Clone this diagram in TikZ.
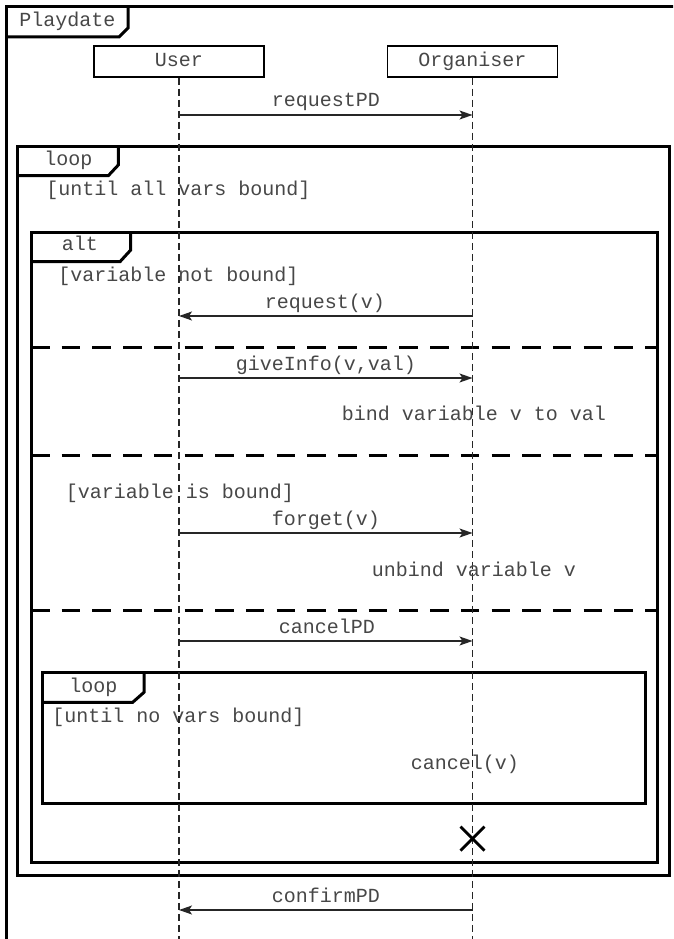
\documentclass[tikz,border=0pt]{standalone}
\usepackage{fontspec}
\setmonofont{Liberation Mono}
\usetikzlibrary{arrows.meta}
\begin{document}
\begin{tikzpicture}[x=1pt,y=-1pt,
  txt/.style={font=\ttfamily\fontsize{20}{22}\selectfont, text=black!72, inner sep=0pt},
  lbl/.style={txt, anchor=base},
  actor/.style={txt, draw=black, line width=1.5pt, minimum width=170pt, minimum height=31pt, text height=12.5pt, text depth=2.5pt},
  frm/.style={draw=black, line width=3pt, line join=miter},
  life/.style={draw=black!85, line width=1.3pt, dash pattern=on 7pt off 4pt},
  sep/.style={draw=black, line width=3pt, dash pattern=on 18.5pt off 12.2pt},
  msg/.style={draw=black!85, line width=1.3pt, -{Stealth[length=13pt, width=9pt, inset=3pt]}},
  xmark/.style={draw=black, line width=2.8pt}]
\useasboundingbox (0,0) rectangle (673,939);
\clip (0,0) rectangle (673,939);

% outer frame Playdate
\draw[frm] (6,960) -- (6,7) -- (700,7);
\draw[frm] (6,37) -- (119,37) -- (128,28) -- (128,7);
\node[lbl] (tplay) at (67.5,27) {Playdate};

% outer loop
\draw[frm] (17.5,146) rectangle (669,875);
\draw[frm] (17.5,175.7) -- (108.3,175.7) -- (118.3,165) -- (118.3,146);
\node[lbl] (tloop1) at (68.3,165) {loop};
\node[lbl] (g1) at (178.3,195.7) {[until all vars bound]};

% alt frame
\draw[frm] (31,232) rectangle (657,862);
\draw[frm] (31,261.7) -- (120,261.7) -- (130.7,250) -- (130.7,232);
\node[lbl] (talt) at (80,250.7) {alt};
\node[lbl] (g2) at (178.3,281.7) {[variable not bound]};
\coordinate (s1a) at (31,347); \coordinate (s1b) at (657,347);
\coordinate (s2a) at (31,455.5); \coordinate (s2b) at (657,455.5);
\coordinate (s3a) at (31,610); \coordinate (s3b) at (657,610);
\draw[sep] (s1a) -- (s1b);
\draw[sep] (s2a) -- (s2b);
\draw[sep] (s3a) -- (s3b);
\node[lbl] (g3) at (180,498) {[variable is bound]};

% inner loop
\draw[frm] (42,672.7) rectangle (645,803);
\draw[frm] (42,702.3) -- (132.7,702.3) -- (144,692.3) -- (144,672.7);
\node[lbl] (tloop2) at (93.3,692) {loop};
\node[lbl] (g4) at (178.3,722.7) {[until no vars bound]};

% lifelines
\node[actor] (user) at (179,61.5) {User~};
\node[actor] (org) at (472.5,61.5) {Organiser~};
\coordinate (ue) at (179,950);
\coordinate (oe) at (472.5,950);
\draw[life] (user.south) -- (ue);
\draw[life] (org.south) -- (oe);

% messages
\foreach \n/\y in {1/115,2/316,3/378,4/533,5/641,6/910}{
  \coordinate (u\n) at (179,\y);
  \coordinate (o\n) at (472.5,\y);
}
\draw[msg] (u1) -- (o1);
\node[lbl] (m1) at (326,107) {requestPD};
\draw[msg] (o2) -- (u2);
\node[lbl] (m2) at (325,308) {request(v)};
\draw[msg] (u3) -- (o3);
\node[lbl] (m3) at (326,370.5) {giveInfo(v,val)};
\draw[msg] (u4) -- (o4);
\node[lbl] (m4) at (326,525) {forget(v)};
\draw[msg] (u5) -- (o5);
\node[lbl] (m5) at (327,633) {cancelPD};
\draw[msg] (o6) -- (u6);
\node[lbl] (m6) at (326,902) {confirmPD};

\node[lbl] (n1) at (474,420.7) {bind variable v to val};
\node[lbl] (n2) at (474,576) {unbind variable v};
\node[lbl] (n3) at (465,769) {cancel(v)};

% destruction
\coordinate (xc) at (472.5,838.7);
\draw[xmark] ([shift={(-12,-12)}]xc) -- ([shift={(12,12)}]xc);
\draw[xmark] ([shift={(-12,12)}]xc) -- ([shift={(12,-12)}]xc);
\end{tikzpicture}
\end{document}
